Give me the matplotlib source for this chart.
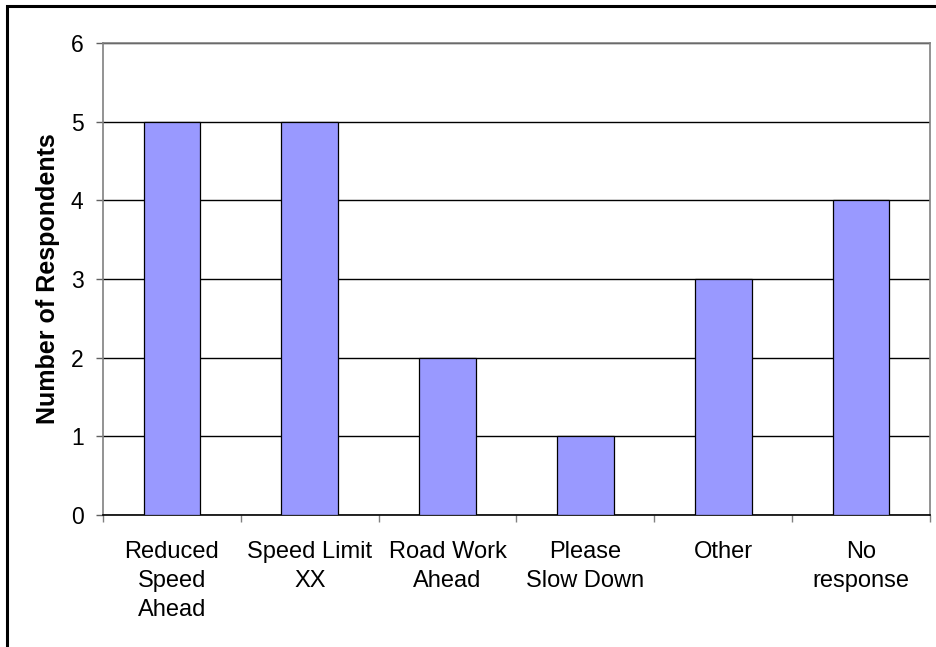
import matplotlib.pyplot as plt
from matplotlib.patches import Rectangle

# chart data
categories = ["Reduced\nSpeed\nAhead", "Speed Limit\nXX", "Road Work\nAhead",
              "Please\nSlow Down", "Other", "No\nresponse"]
respondents = [5, 5, 2, 1, 3, 4]
yticks = [0, 1, 2, 3, 4, 5, 6]

plt.rcParams['font.family'] = ['Liberation Sans', 'DejaVu Sans']

fig = plt.figure(figsize=(9.37, 6.47), dpi=100)
ax = fig.add_axes([103/937, 1 - 515/647, (930 - 103)/937, (515 - 43)/647])

x = list(range(len(categories)))
ax.bar(x, respondents, width=0.41, color='#9999FF', edgecolor='black',
       linewidth=0.9, zorder=3)

ax.set_xlim(-0.5, len(categories) - 0.5)
ax.set_ylim(0, 6)
ax.set_yticks(yticks)
ax.yaxis.grid(True, color='black', linewidth=1.0, zorder=1)

# category labels in the middle, tick marks between categories
ax.set_xticks(x)
ax.set_xticklabels(categories, fontsize=17, linespacing=1.4)
ax.tick_params(axis='x', which='major', length=0, pad=19)
ax.set_xticks([i - 0.5 for i in range(len(categories) + 1)], minor=True)
ax.tick_params(axis='x', which='minor', length=5, width=1, color='#808080', direction='out')
ax.tick_params(axis='y', labelsize=16.5, length=5, width=1, color='#606060', pad=9)

for side in ['left', 'top', 'right']:
    ax.spines[side].set_color('#808080')
    ax.spines[side].set_linewidth(1.2)
ax.spines['bottom'].set_color('black')
ax.spines['bottom'].set_linewidth(1.2)

ax.set_ylabel('Number of Respondents', fontsize=18, fontweight='bold', labelpad=8)

# outer chart frame (cut off at right and bottom)
fig.patches.append(Rectangle((7/937, -0.05), 1.0, 1 - 6/647 + 0.05,
                             transform=fig.transFigure, fill=False,
                             edgecolor='black', linewidth=2.2))

fig.savefig('out.png', dpi=100)
